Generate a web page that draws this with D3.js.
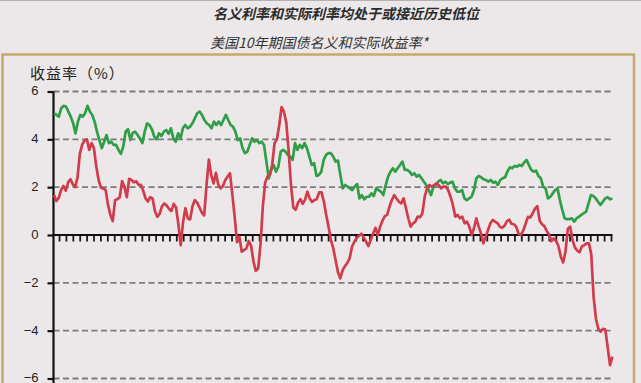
<!DOCTYPE html>
<html>
<head>
<meta charset="utf-8">
<script src="https://cdn.jsdelivr.net/npm/d3@7/dist/d3.min.js"></script>
<style>
  body { margin: 0; background: #ece8e9; }
  svg { display: block; }
</style>
</head>
<body>
<script>
// texts
var title = "名义利率和实际利率均处于或接近历史低位";
var subtitle = "美国10年期国债名义和实际收益率*";
var yTitle = "收益率（%）";

// y ticks
var yTicks = [6, 4, 2, -2, -4, -6];
var yLabels = [6, 4, 2, 0, -2, -4, -6];

// quarterly x ticks (no labels)
var tickStartYear = 2002;
var tickEndYear = 2022;
var axisStartYear = 2001.8;

// monthly series span
var seriesStart = 2001.82;
var seriesEnd = 2022.05;

// nominal 10y yield
var nominal = [
  5.09,5.02,4.95,5.3,5.4,5.37,5.16,4.95,4.67,4.25,4.74,5.02,4.95,5.09,5.4,5.16,5.02,4.74,4.32,3.97,
  3.63,3.9,4.18,3.84,3.9,3.77,3.77,3.56,3.39,3.7,4.32,4.42,3.97,4.28,4.32,4.18,4.04,3.84,4.32,4.67,
  4.6,4.42,4.11,4.0,4.25,4.14,4.32,4.39,
  4.23,4.46,4.04,3.9,4.25,4.04,4.46,4.6,4.46,4.53,4.67,4.88,5.09,5.16,5.02,4.81,4.67,4.6,4.46,4.74,
  4.6,4.74,4.6,4.81,5.02,4.81,4.6,4.53,4.32,3.97,4.04,3.63,3.42,3.49,3.77,4.04,3.9,3.97,3.84,3.9,
  3.77,3.07,2.37,2.72,2.93,2.65,2.86,
  3.49,3.56,3.49,3.35,3.28,3.14,3.84,3.56,3.77,3.63,3.84,3.63,3.28,2.93,3.0,2.47,2.51,2.65,3.14,3.35,
  3.42,3.42,3.28,3.07,3.11,2.51,1.95,2.09,2.02,1.95,1.88,2.02,2.13,1.53,1.67,1.49,1.6,1.6,1.74,1.63,
  1.95,1.88,1.81,1.67,2.09,2.44,
  2.65,2.79,2.65,2.79,2.93,3.07,2.72,2.72,2.65,2.51,2.58,2.44,2.51,2.37,2.23,2.09,1.88,1.67,2.02,2.09,
  2.23,2.3,2.16,2.23,2.13,2.19,2.23,1.95,1.81,1.81,1.88,1.53,1.46,1.53,1.6,1.88,2.37,2.47,2.41,2.33,
  2.3,2.23,2.3,2.19,2.23,
  2.09,2.3,2.37,2.41,2.65,2.83,2.79,2.89,2.86,2.93,2.89,3.03,3.14,2.93,2.72,2.65,2.69,2.47,2.37,2.02,
  1.95,1.53,1.6,1.74,1.88,1.95,1.46,1.05,0.7,0.66,0.66,0.7,0.56,0.7,0.77,0.84,0.91,0.98,1.32,1.67,
  1.63,1.53,1.39,1.26,1.39,1.53,1.58,1.49,1.53
];

// real 10y yield
var real = [
  1.67,1.42,1.55,1.88,2.05,1.85,2.2,2.33,2.12,2.0,2.4,3.4,3.78,3.95,4.0,3.56,3.84,3.63,2.86,2.3,
  1.97,1.95,1.88,1.26,0.85,0.58,1.45,1.5,1.58,2.25,2.02,1.58,2.35,2.3,2.2,2.25,2.1,2.1,1.85,1.53,
  1.4,1.58,1.53,1.0,0.76,0.88,1.2,1.32,
  1.23,1.1,1.0,1.3,1.15,0.45,-0.42,0.55,1.12,0.7,0.65,1.2,1.46,1.35,1.15,0.93,0.82,2.1,3.15,2.5,
  2.16,2.6,2.1,1.95,2.05,2.3,2.45,2.58,1.7,0.75,-0.3,-0.07,-0.7,-0.63,-0.56,-0.25,-0.45,-1.1,-1.5,-1.4,
  -0.4,1.2,2.2,2.45,2.51,2.95,3.84,
  4.0,4.6,5.35,5.15,4.7,3.5,2.1,1.15,1.05,1.35,1.5,1.3,1.48,1.81,1.52,1.38,1.46,1.5,1.78,1.78,
  1.4,0.85,0.35,-0.2,-0.55,-1.05,-1.55,-1.81,-1.48,-1.3,-1.17,-0.98,-0.49,-0.28,-0.13,-0.03,0.05,-0.1,-0.28,-0.46,
  -0.21,0.05,0.3,0.0,0.35,0.6,0.79,
  0.84,1.19,1.46,1.67,1.53,1.39,1.32,1.53,1.12,0.7,0.35,0.49,0.56,0.77,0.74,0.91,1.6,1.95,2.09,2.02,
  2.09,2.16,2.09,1.95,2.02,2.02,1.88,1.6,1.26,0.77,0.84,0.7,0.77,0.49,0.56,0.35,0.0,0.28,0.7,0.35,
  0.07,-0.35,-0.07,0.21,0.49,0.63,0.56,
  0.5,0.35,0.3,0.38,0.57,0.64,0.47,0.45,0.35,0.05,0.0,0.18,0.47,0.76,0.73,0.9,1.1,1.2,0.6,0.45,
  0.37,0.17,0.02,-0.26,-0.14,-0.25,-0.46,-0.9,-1.15,-0.7,0.25,0.35,-0.21,-0.52,-0.65,-0.72,-0.48,-0.42,-0.35,-0.35,
  -0.8,-2.6,-3.5,-3.92,-4.04,-3.92,-3.95,-4.7,-5.44,-5.09
];

var w = 641;
var h = 383;

var svg = d3.select("body")
            .append("svg")
            .attr("width", w)
            .attr("height", h);

// background + golden frame
svg.append("rect")
   .attr("width", w)
   .attr("height", h)
   .attr("fill", "#ece8e9");

svg.append("line")
   .attr("x1", 0).attr("x2", w)
   .attr("y1", 0.5).attr("y2", 0.5)
   .attr("stroke", "#b5b1b2")
   .attr("stroke-width", 1);

svg.append("rect")
   .attr("x", 2.5)
   .attr("y", 54.5)
   .attr("width", 631.5)
   .attr("height", 360)
   .attr("fill", "none")
   .attr("stroke", "#c6a96c")
   .attr("stroke-width", 2.5);

// titles
svg.append("text")
   .attr("x", 213)
   .attr("y", 19)
   .attr("font-family", "'Noto Sans CJK SC', sans-serif")
   .attr("font-size", "14px")
   .attr("font-weight", "bold")
   .attr("font-style", "italic")
   .attr("fill", "#2b2b2b")
   .text(title);

svg.append("text")
   .attr("x", 210)
   .attr("y", 48)
   .attr("font-family", "'Noto Sans CJK SC', sans-serif")
   .attr("font-size", "14px")
   .attr("font-style", "italic")
   .attr("fill", "#333")
   .text(subtitle);

svg.append("text")
   .attr("x", 30)
   .attr("y", 79)
   .attr("font-family", "'Noto Sans CJK SC', sans-serif")
   .attr("font-size", "15px")
   .attr("letter-spacing", "1px")
   .attr("fill", "#222")
   .text(yTitle);

// scales
var xScale = d3.scaleLinear()
               .domain([axisStartYear, tickEndYear])
               .range([53.5, 611]);

var yScale = d3.scaleLinear()
               .domain([-6, 6])
               .range([378.5, 91.5]);

var gridRight = 612.5;

// dashed grid lines
svg.selectAll(".grid")
   .data(yTicks)
   .enter()
   .append("line")
   .attr("class", "grid")
   .attr("x1", xScale(axisStartYear))
   .attr("x2", gridRight)
   .attr("y1", d => yScale(d))
   .attr("y2", d => yScale(d))
   .attr("stroke", "#7d7b7c")
   .attr("stroke-width", 1.8)
   .attr("stroke-dasharray", "6,3.5");

// y axis
var yAxis = d3.axisLeft(yScale)
              .tickValues(yLabels)
              .tickSize(6)
              .tickPadding(9)
              .tickFormat(d3.format("d"));

var yGuide = svg.append("g")
                .attr("transform", "translate(" + xScale(axisStartYear) + ",0)")
                .call(yAxis);
yGuide.select(".domain").remove();
yGuide.selectAll("line")
      .attr("stroke", "#111")
      .attr("stroke-width", 2.2);
yGuide.selectAll("text")
      .attr("dy", "0.26em")
      .attr("font-family", "'Liberation Sans', Arial, sans-serif")
      .attr("font-size", "13px")
      .attr("fill", "#222");

svg.append("line")
   .attr("x1", xScale(axisStartYear))
   .attr("x2", xScale(axisStartYear))
   .attr("y1", yScale(6))
   .attr("y2", h)
   .attr("stroke", "#111")
   .attr("stroke-width", 2.2);

// x axis at zero with quarterly ticks
var quarterTicks = d3.range(tickStartYear, tickEndYear + 0.01, 0.25);

var xAxis = d3.axisBottom(xScale)
              .tickValues(quarterTicks)
              .tickSize(6.5)
              .tickSizeOuter(0)
              .tickFormat("");

var xGuide = svg.append("g")
                .attr("transform", "translate(0," + yScale(0) + ")")
                .call(xAxis);
xGuide.select(".domain").remove();
xGuide.selectAll("line")
      .attr("stroke", "#1a1a1a")
      .attr("stroke-width", 1.8);

svg.append("line")
   .attr("x1", xScale(axisStartYear))
   .attr("x2", gridRight)
   .attr("y1", yScale(0))
   .attr("y2", yScale(0))
   .attr("stroke", "#111")
   .attr("stroke-width", 2.2);

// lines
function seriesYear(i, n) {
  return seriesStart + i * (seriesEnd - seriesStart) / (n - 1);
}

var line = d3.line()
             .x((d, i, arr) => xScale(seriesYear(i, arr.length)))
             .y(d => yScale(d));

svg.append("path")
   .datum(nominal)
   .attr("fill", "none")
   .attr("stroke", "#2f9e46")
   .attr("stroke-width", 2.7)
   .attr("stroke-linejoin", "round")
   .attr("d", line);

svg.append("path")
   .datum(real)
   .attr("fill", "none")
   .attr("stroke", "#d13c4c")
   .attr("stroke-width", 2.7)
   .attr("stroke-linejoin", "round")
   .attr("d", line);
</script>
</body>
</html>
